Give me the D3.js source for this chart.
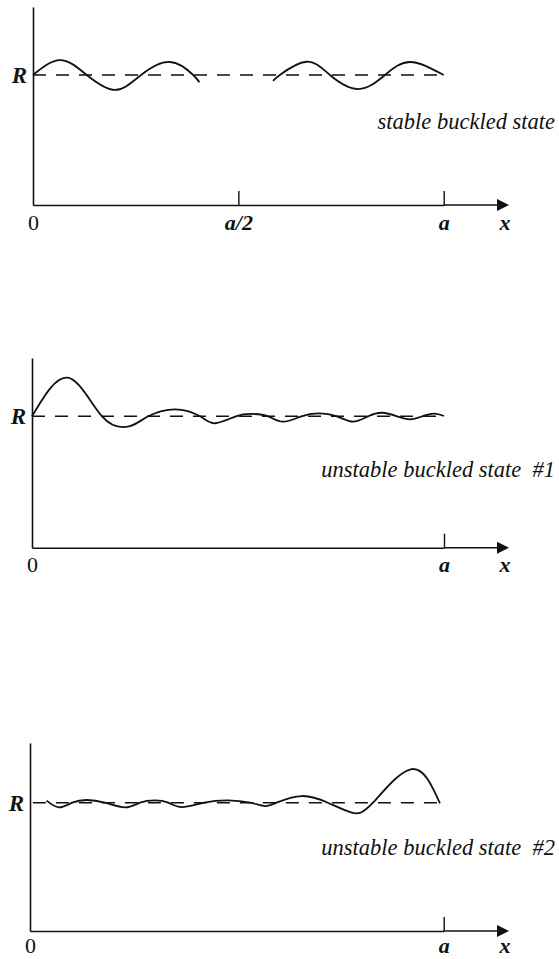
<!DOCTYPE html>
<html>
<head>
<meta charset="utf-8">
<script src="https://cdn.jsdelivr.net/npm/d3@7"></script>
<style>
  html, body { margin: 0; padding: 0; background: #fff; }
  svg { display: block; }
  text { font-family: "Liberation Serif", "DejaVu Serif", serif; fill: #111; }
</style>
</head>
<body>
<div id="chart"></div>
<script>
// Radius profile r(x)/R along the cylinder, x in units of the length a.
const stableLeft = [
  [0.000, 1.000], [0.066, 1.115], [0.131, 1.000], [0.200, 0.885],
  [0.263, 1.000], [0.334, 1.100], [0.390, 1.000], [0.405, 0.944]
];
const stableRight = [
  [0.585, 0.954], [0.601, 1.000], [0.666, 1.102], [0.723, 1.000],
  [0.792, 0.892], [0.857, 1.000], [0.918, 1.100], [1.000, 1.000]
];
const unstable1 = [
  [0.000, 1.000], [0.087, 1.294], [0.170, 1.000], [0.238, 0.926],
  [0.282, 1.000], [0.347, 1.053], [0.408, 1.000], [0.444, 0.947],
  [0.495, 1.000], [0.534, 1.018], [0.573, 1.000], [0.609, 0.959],
  [0.654, 1.000], [0.694, 1.023], [0.740, 1.000], [0.779, 0.959],
  [0.816, 1.000], [0.850, 1.027], [0.886, 1.000], [0.918, 0.977],
  [0.947, 1.000], [0.976, 1.021], [1.000, 1.002]
];
const unstable2 = [
  [0.040, 1.016], [0.070, 0.964], [0.102, 1.000], [0.137, 1.021],
  [0.181, 1.000], [0.230, 0.964], [0.266, 1.000], [0.302, 1.018],
  [0.334, 1.000], [0.367, 0.966], [0.421, 1.000], [0.479, 1.018],
  [0.532, 1.000], [0.568, 0.974], [0.596, 1.000], [0.657, 1.052],
  [0.720, 1.000], [0.778, 0.922], [0.829, 1.000], [0.923, 1.262],
  [0.991, 0.995]
];

const stateLabels = ["stable buckled state", "unstable buckled state  #1", "unstable buckled state  #2"];
const tickValuesHalf = [0, 0.5, 1];
const tickTextHalf = ["0", "a/2", "a"];
const tickValuesEnd = [0, 1];
const tickTextEnd = ["0", "a"];
const radiusLevel = 1;
const radiusText = "R";
const axisVarText = "x";

const W = 559, H = 959;
const svg = d3.select("#chart").append("svg")
  .attr("width", W).attr("height", H);

const panels = [
  { left: 33, aX: 443.7, arrowX: 509, top: 7, base: 205, rY: 75, pad: 9,
    series: [stableLeft, stableRight], ticks: tickValuesHalf, tickText: tickTextHalf,
    label: stateLabels[0], labelX: 555, labelY: 129, dash: [0, 1] },
  { left: 32, aX: 444, arrowX: 509, top: 358, base: 547.7, rY: 416.3, pad: 9,
    series: [unstable1], ticks: tickValuesEnd, tickText: tickTextEnd,
    label: stateLabels[1], labelX: 555, labelY: 477, dash: [0, 1] },
  { left: 30, aX: 443.7, arrowX: 509, top: 743, base: 931, rY: 802.7, pad: 6,
    series: [unstable2], ticks: tickValuesEnd, tickText: tickTextEnd,
    label: stateLabels[2], labelX: 555, labelY: 855, dash: [0.007, 0.99] }
];

panels.forEach(p => {
  const g = svg.append("g");
  const x = d3.scaleLinear().domain([0, 1]).range([p.left, p.aX]);
  const y = d3.scaleLinear().domain([0, radiusLevel]).range([p.base, p.rY]);
  const yTop = y.invert(p.top);
  y.domain([0, yTop]).range([p.base, p.top]);

  // vertical axis with the R level label
  const yAxis = d3.axisLeft(y).tickValues([radiusLevel]).tickSize(0).tickPadding(6)
    .tickFormat(() => radiusText);
  const ya = g.append("g").attr("transform", `translate(${p.left},0)`).call(yAxis);
  ya.select(".domain").attr("stroke", "#111").attr("stroke-width", 1.6);
  ya.selectAll("text").attr("font-size", 23).attr("font-style", "italic")
    .attr("font-weight", "bold").attr("font-family", "Liberation Serif").attr("fill", "#111");

  // horizontal axis, ticks pointing up
  const xAxis = d3.axisBottom(x).tickValues(p.ticks).tickSize(-14).tickSizeOuter(0)
    .tickPadding(p.pad).tickFormat((d, i) => p.tickText[i]);
  const xa = g.append("g").attr("transform", `translate(0,${p.base})`).call(xAxis);
  xa.select(".domain").attr("stroke", "#111").attr("stroke-width", 1.6);
  xa.selectAll(".tick line").attr("stroke", "#111").attr("stroke-width", 1.4)
    .attr("opacity", d => d === 0 ? 0 : 1);
  xa.selectAll("text").attr("font-size", 22).attr("font-family", "Liberation Serif")
    .attr("fill", "#111")
    .attr("font-style", d => d === 0 ? "normal" : "italic")
    .attr("font-weight", d => d === 0 ? "normal" : "bold");

  // axis extension and arrow head
  g.append("line").attr("x1", p.aX).attr("x2", p.arrowX - 10)
    .attr("y1", p.base).attr("y2", p.base).attr("stroke", "#111").attr("stroke-width", 1.6);
  g.append("path")
    .attr("d", `M${p.arrowX},${p.base} L${p.arrowX - 12},${p.base - 6} L${p.arrowX - 12},${p.base + 6} Z`)
    .attr("fill", "#111");
  g.append("text").attr("x", p.arrowX - 4).attr("y", p.base + p.pad).attr("dy", "0.71em")
    .attr("text-anchor", "middle").attr("font-size", 22).attr("font-style", "italic")
    .attr("font-weight", "bold").text(axisVarText);

  // undeformed radius, dashed
  g.append("line").attr("x1", x(p.dash[0])).attr("x2", x(p.dash[1]))
    .attr("y1", y(radiusLevel)).attr("y2", y(radiusLevel))
    .attr("stroke", "#111").attr("stroke-width", 1.5).attr("stroke-dasharray", "13,10");

  // deformed profile
  const line = d3.line().x(d => x(d[0])).y(d => y(d[1])).curve(d3.curveNatural);
  p.series.forEach(s => {
    g.append("path").datum(s).attr("d", line)
      .attr("fill", "none").attr("stroke", "#111").attr("stroke-width", 1.8);
  });

  // state caption
  g.append("text").attr("x", p.labelX).attr("y", p.labelY).attr("text-anchor", "end")
    .attr("font-size", 22.5).attr("font-style", "italic")
    .style("white-space", "pre").text(p.label);
});
</script>
</body>
</html>
